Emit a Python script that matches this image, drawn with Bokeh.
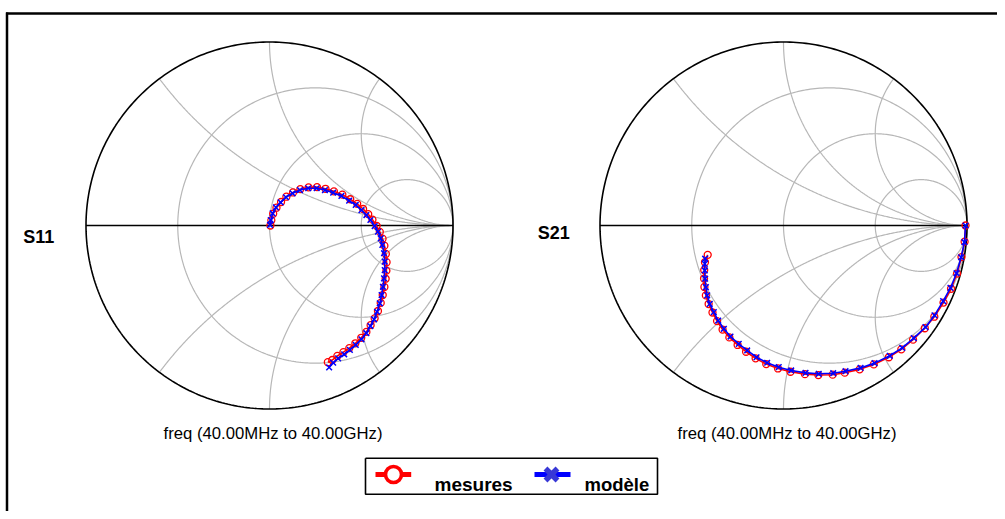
import numpy as np
from bokeh.plotting import figure
from bokeh.models import Label, Range1d, ColumnDataSource
from bokeh.embed import file_html
from bokeh.resources import INLINE

# ---------------- data (reflection coefficients, real / imaginary) ----------------
chart_names = ["S11", "S21"]
freq_text = "freq (40.00MHz to 40.00GHz)"
legend_labels = ["mesures", "modèle"]

s11_meas_re = [0.005, 0.010, 0.020, 0.038, 0.063, 0.092, 0.128, 0.168, 0.213, 0.259,
               0.305, 0.351, 0.397, 0.440, 0.478, 0.510, 0.538, 0.561, 0.584, 0.601,
               0.616, 0.626, 0.634, 0.638, 0.637, 0.633, 0.626, 0.617, 0.606, 0.591,
               0.573, 0.551, 0.528, 0.500, 0.468, 0.435, 0.403, 0.370, 0.342, 0.318]
s11_meas_im = [0.000, 0.028, 0.064, 0.097, 0.128, 0.157, 0.180, 0.198, 0.208, 0.209,
               0.200, 0.186, 0.168, 0.143, 0.118, 0.090, 0.062, 0.032, -0.002, -0.035,
               -0.072, -0.110, -0.155, -0.200, -0.246, -0.290, -0.335, -0.379, -0.422, -0.466,
               -0.506, -0.543, -0.580, -0.612, -0.642, -0.668, -0.690, -0.711, -0.733, -0.745]
s11_model_re = [0.003, 0.007, 0.017, 0.035, 0.061, 0.090, 0.126, 0.166, 0.211, 0.257,
                0.302, 0.347, 0.392, 0.434, 0.470, 0.501, 0.528, 0.550, 0.573, 0.591,
                0.606, 0.615, 0.624, 0.628, 0.628, 0.624, 0.618, 0.611, 0.601, 0.586,
                0.570, 0.550, 0.528, 0.501, 0.470, 0.438, 0.407, 0.374, 0.347, 0.325]
s11_model_im = [0.003, 0.030, 0.066, 0.099, 0.126, 0.154, 0.175, 0.193, 0.203, 0.203,
                0.193, 0.179, 0.161, 0.135, 0.112, 0.084, 0.057, 0.030, -0.003, -0.034,
                -0.070, -0.106, -0.151, -0.197, -0.243, -0.288, -0.334, -0.379, -0.424, -0.470,
                -0.511, -0.548, -0.587, -0.620, -0.651, -0.678, -0.702, -0.724, -0.748, -0.773]

s21_meas_re = [0.992, 0.987, 0.970, 0.946, 0.913, 0.872, 0.822, 0.770, 0.706, 0.642,
               0.574, 0.492, 0.415, 0.334, 0.268, 0.190, 0.117, 0.038, -0.030, -0.094,
               -0.152, -0.204, -0.250, -0.295, -0.332, -0.362, -0.387, -0.408, -0.423, -0.431,
               -0.433, -0.432, -0.428, -0.413]
s21_meas_im = [0.000, -0.088, -0.172, -0.262, -0.345, -0.420, -0.497, -0.560, -0.622, -0.675,
               -0.718, -0.757, -0.784, -0.802, -0.813, -0.815, -0.810, -0.797, -0.779, -0.755,
               -0.724, -0.688, -0.651, -0.610, -0.567, -0.521, -0.474, -0.428, -0.381, -0.335,
               -0.289, -0.243, -0.200, -0.160]
s21_model_re = [0.992, 0.986, 0.968, 0.943, 0.910, 0.870, 0.823, 0.774, 0.710, 0.647,
                0.579, 0.496, 0.420, 0.338, 0.271, 0.192, 0.120, 0.042, -0.026, -0.089,
                -0.147, -0.198, -0.244, -0.289, -0.325, -0.356, -0.380, -0.402, -0.416, -0.423,
                -0.427, -0.429, -0.429, -0.427]
s21_model_im = [0.000, -0.091, -0.173, -0.260, -0.340, -0.412, -0.490, -0.554, -0.614, -0.667,
                -0.710, -0.750, -0.776, -0.794, -0.805, -0.808, -0.803, -0.790, -0.772, -0.748,
                -0.718, -0.681, -0.645, -0.605, -0.563, -0.518, -0.472, -0.427, -0.381, -0.336,
                -0.290, -0.245, -0.209, -0.181]

r_circles = [1/3, 1.0, 3.0]
x_arcs = [0.5, 1.0, 2.0, -0.5, -1.0, -2.0]

# ---------------- layout (figure pixels) ----------------
W, H = 997, 511
SCALE = 183.5            # pixels per unit of |Gamma|
CX = [269.0, 783.0]      # chart centres, px from left
CY = 225.0               # chart centre, px from top

def dx(px):
    return (px - CX[0]) / SCALE

def dy(py):
    return (CY - py) / SCALE

OFF = [dx(c) for c in CX]

p = figure(width=W, height=H, output_backend="svg", toolbar_location=None,
           x_range=Range1d(dx(0), dx(W)), y_range=Range1d(dy(H), dy(0)),
           min_border=0, outline_line_color=None)
p.xaxis.visible = False
p.yaxis.visible = False
p.grid.visible = False
p.background_fill_color = "white"
p.border_fill_color = "white"

GRID = "#b7b7b7"
FONT = "Liberation Sans"

# outer frame of the page (top and left)
p.line([dx(5.5), dx(W)], [dy(13), dy(13)], line_color="black", line_width=2.5)
p.line([dx(6.5), dx(6.5)], [dy(12), dy(H)], line_color="black", line_width=2.5)

th = np.linspace(0, 2 * np.pi, 361)
tt = np.tan(np.linspace(0, np.pi / 2 - 1e-4, 400))

for k in range(2):
    o = OFF[k]
    xs, ys = [], []
    for r in r_circles:
        c, rad = r / (1 + r), 1 / (1 + r)
        xs.append(list(o + c + rad * np.cos(th)))
        ys.append(list(rad * np.sin(th)))
    for xv in x_arcs:
        g = (tt - 1 + 1j * xv) / (tt + 1 + 1j * xv)
        xs.append(list(o + g.real))
        ys.append(list(g.imag))
    p.multi_line(xs, ys, line_color=GRID, line_width=1.2)
    p.line(list(o + np.cos(th)), list(np.sin(th)), line_color="black", line_width=1.6)
    p.line([o - 1, o + 1], [0, 0], line_color="black", line_width=1.5)

series = [
    (s11_meas_re, s11_meas_im, s11_model_re, s11_model_im),
    (s21_meas_re, s21_meas_im, s21_model_re, s21_model_im),
]
for k, (mr, mi, dr, di) in enumerate(series):
    o = OFF[k]
    src_m = ColumnDataSource(dict(x=[o + v for v in mr], y=mi))
    src_d = ColumnDataSource(dict(x=[o + v for v in dr], y=di))
    p.line("x", "y", source=src_m, line_color="red", line_width=1.6)
    p.scatter("x", "y", source=src_m, marker="circle", size=7, fill_color=None,
              line_color="red", line_width=1.3)
    p.line("x", "y", source=src_d, line_color="blue", line_width=1.6)
    p.scatter("x", "y", source=src_d, marker="x", size=8, line_color="blue", line_width=1.5)

# chart names
name_pos = [(22.7, 236.0), (537.3, 232.3)]
for name, (px, py) in zip(chart_names, name_pos):
    p.add_layout(Label(x=dx(px), y=dy(py), text=name, text_font=FONT,
                       text_font_size="18px", text_font_style="bold",
                       text_align="left", text_baseline="alphabetic", text_color="black"))

# frequency captions
for px in [272.5, 786.5]:
    p.add_layout(Label(x=dx(px), y=dy(433.0), text=freq_text, text_font=FONT,
                       text_font_size="16.7px", text_align="center",
                       text_baseline="alphabetic", text_color="black"))

# legend (drawn manually)
bx0, by0, bx1, by1 = 365.0, 457.7, 657.0, 493.7
p.line([dx(bx0), dx(bx1), dx(bx1), dx(bx0), dx(bx0)],
       [dy(by0), dy(by0), dy(by1), dy(by1), dy(by0)], line_color="black", line_width=1.6)
ly = 474.0
p.line([dx(375), dx(410.7)], [dy(ly), dy(ly)], line_color="red", line_width=5)
p.scatter([dx(393)], [dy(ly)], marker="circle", size=16, fill_color="white",
          line_color="red", line_width=3.6)
p.line([dx(534), dx(570)], [dy(ly), dy(ly)], line_color="blue", line_width=5)
p.scatter([dx(551)], [dy(ly)], marker="x", size=17, line_color="#3838d6", line_width=5.5)
for txt, px, fs in zip(legend_labels, [434.0, 584.0], ["19px", "18.5px"]):
    p.add_layout(Label(x=dx(px), y=dy(483.7), text=txt, text_font=FONT,
                       text_font_size=fs, text_font_style="bold",
                       text_align="left", text_baseline="alphabetic", text_color="black"))

open("out.html", "w").write(file_html(p, INLINE))
